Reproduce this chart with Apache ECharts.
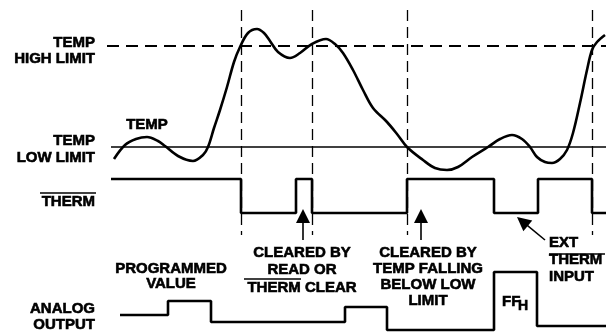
<!DOCTYPE html>
<html>
<head>
<meta charset="utf-8">
<script src="https://cdn.jsdelivr.net/npm/echarts@6/dist/echarts.min.js"></script>
<style>
  html, body { margin: 0; padding: 0; background: #fff; }
  #chart { width: 606px; height: 332px; }
</style>
</head>
<body>
<div id="chart"></div>
<script>
// diagram units: x goes left -> right, y goes top -> bottom (0..332)
const tempX = [114, 125, 136, 147, 158, 165, 178, 193, 203, 208, 214, 220, 227, 234, 240, 248, 257, 264, 270, 278, 290, 300, 312, 326, 335, 343, 353, 363, 373, 387, 397, 407, 423, 435, 447, 458, 472, 488, 500, 512, 522, 530, 537, 545, 552, 560, 567, 573, 580, 587, 592, 597, 605]
const tempY = [159, 145, 139, 137, 141, 146, 156, 161, 155, 147, 128, 110, 87, 62, 47, 33, 29, 33, 41, 52, 58, 53, 44, 39, 44, 53, 70, 90, 108, 122, 134, 147, 160, 168, 170, 167, 157, 147, 139, 135, 139, 147, 157, 162, 163, 159, 150, 133, 103, 70, 50, 42, 35]

const highLimit = 46
const lowLimit = 147
const highLimitFrom = 107
const lowLimitFrom = 111
const limitTo = 606

const eventX = [241, 312, 407, 592]
const eventTop = 10
const eventBottom = 235

// step signals: level holds until the next x
const thermX = [111, 241, 296, 312, 407, 494, 538, 592, 606]
const thermY = [179, 213, 179, 213, 179, 213, 179, 213, 213]
const analogX = [120, 168, 211, 345, 387, 494, 537, 606]
const analogY = [315, 301, 322, 307, 330, 272, 326, 326]

const arrowFrom = [[303, 240], [421, 240], [545, 240]]
const arrowTo = [[303, 209], [421, 209], [517, 217]]

const labelHigh = 'TEMP\nHIGH LIMIT'
const labelLow = 'TEMP\nLOW LIMIT'
const labelTemp = 'TEMP'
const labelTherm = 'THERM'
const labelProg = 'PROGRAMMED\nVALUE'
const labelAnalog = 'ANALOG\nOUTPUT'
const labelClear1 = 'CLEARED BY\nREAD OR\nTHERM CLEAR'
const labelClear2 = 'CLEARED BY\nTEMP FALLING\nBELOW LOW\nLIMIT'
const labelExt = 'EXT\nTHERM\nINPUT'

const chart = echarts.init(document.getElementById('chart'))
const FONT = 'bold 15px "Liberation Sans", Arial, sans-serif'
const HEAD = 14

const txt = (text, x, y, align, lh, font) => ({
  type: 'text',
  x: x,
  y: y,
  silent: true,
  style: {
    text: text,
    fill: '#000',
    stroke: '#000',
    lineWidth: 0.6,
    font: font || FONT,
    align: align,
    textAlign: align,
    verticalAlign: 'middle',
    textVerticalAlign: 'middle',
    lineHeight: lh || 16,
  },
})

const overline = (x1, x2, y) => ({
  type: 'line',
  silent: true,
  shape: {x1: x1, y1: y, x2: x2, y2: y},
  style: {stroke: '#000', lineWidth: 1.5},
})

// pull the line end back so the triangle tip lands on the target
const arrowData = arrowFrom.map((p, i) => {
  const q = arrowTo[i]
  const dx = q[0] - p[0]
  const dy = q[1] - p[1]
  const len = Math.sqrt(dx * dx + dy * dy)
  const k = (len - HEAD / 2) / len
  return {coords: [p, [p[0] + dx * k, p[1] + dy * k]]}
})

chart.setOption({
  animation: false,
  backgroundColor: '#fff',
  grid: {left: 0, right: 0, top: 0, bottom: 0},
  xAxis: {type: 'value', min: 0, max: 606, show: false},
  yAxis: {type: 'value', min: 0, max: 332, inverse: true, show: false},
  series: [
    {
      type: 'line',
      data: [[highLimitFrom, highLimit], [limitTo, highLimit]],
      symbol: 'none',
      lineStyle: {color: '#000', width: 2.2, type: [12, 7]},
    },
    {
      type: 'line',
      data: [[lowLimitFrom, lowLimit], [limitTo, lowLimit]],
      symbol: 'none',
      lineStyle: {color: '#000', width: 1.5},
    },
    {
      type: 'lines',
      coordinateSystem: 'cartesian2d',
      data: eventX.map(x => ({coords: [[x, eventTop], [x, eventBottom]]})),
      lineStyle: {color: '#000', width: 1.3, type: [11, 6], opacity: 1},
    },
    {
      type: 'line',
      data: tempX.map((x, i) => [x, tempY[i]]),
      smooth: 0.35,
      symbol: 'none',
      lineStyle: {color: '#000', width: 2.6},
    },
    {
      type: 'line',
      data: thermX.map((x, i) => [x, thermY[i]]),
      step: 'end',
      symbol: 'none',
      lineStyle: {color: '#000', width: 2.6},
    },
    {
      type: 'line',
      data: analogX.map((x, i) => [x, analogY[i]]),
      step: 'end',
      symbol: 'none',
      lineStyle: {color: '#000', width: 2.6},
    },
    {
      type: 'lines',
      coordinateSystem: 'cartesian2d',
      data: arrowData,
      symbol: ['none', 'triangle'],
      symbolSize: [8, HEAD],
      lineStyle: {color: '#000', width: 1.6, opacity: 1},
      itemStyle: {color: '#000'},
    },
  ],
  graphic: [
    txt(labelHigh, 95, 50.6, 'right', 16),
    txt(labelLow, 95, 149, 'right', 17),
    txt(labelTemp, 147, 124.6, 'center'),
    txt(labelTherm, 95, 201.6, 'right'),
    overline(40, 96, 193),
    txt(labelProg, 171, 276, 'center', 15),
    txt(labelAnalog, 95, 316.6, 'right', 16),
    txt(labelClear1, 302, 270, 'center', 17.5),
    overline(244, 301, 279),
    txt(labelClear2, 428, 276.6, 'center', 16),
    txt(labelExt, 549, 259.6, 'left', 17),
    overline(549, 605, 254),
    txt('FF', 502, 301.6, 'left'),
    txt('H', 518, 306, 'left', 16, 'bold 14px "Liberation Sans", Arial, sans-serif'),
  ],
})
</script>
</body>
</html>
